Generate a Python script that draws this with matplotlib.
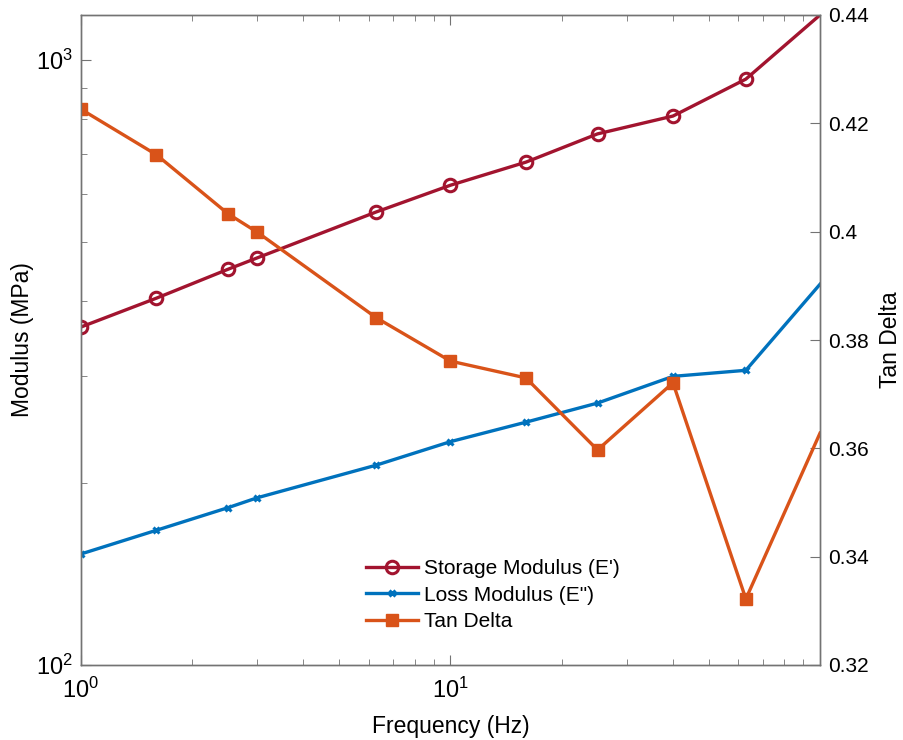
import matplotlib
matplotlib.use("Agg")
import matplotlib.pyplot as plt
from matplotlib.ticker import LogLocator, NullFormatter, FixedLocator, LogFormatterMathtext

plt.rcParams['font.family'] = ['Liberation Sans', 'DejaVu Sans']
plt.rcParams['mathtext.fontset'] = 'custom'
plt.rcParams['mathtext.rm'] = 'Liberation Sans'
plt.rcParams['mathtext.it'] = 'Liberation Sans'

freq = [1, 1.6, 2.5, 3, 6.3, 10, 16, 25, 40, 63, 100]
storage = [362, 404, 451, 471, 561, 621, 678, 755, 808, 930, 1187]
loss = [152.6, 167, 182, 189, 214, 234, 252, 271, 300, 307, 426]
tan_delta = [0.4226, 0.4142, 0.4033, 0.3999, 0.3841, 0.3761, 0.3730, 0.3597, 0.3721, 0.3322, 0.3628]

c_st = '#A2142F'
c_lo = '#0072BD'
c_td = '#D95319'
axc = '0.45'

fig = plt.figure(figsize=(9.04, 7.4), dpi=100)
ax = fig.add_axes([81/904, 75/740, (820-81)/904, (665-15)/740])
ax2 = ax.twinx()

me = list(range(len(freq) - 1))
l1, = ax.plot(freq, storage, '-o', color=c_st, lw=2.4, ms=9, mfc='none', mew=2.2,
              markevery=me, label="Storage Modulus (E')")
l2, = ax.plot(freq, loss, '-x', color=c_lo, lw=2.4, ms=5, mew=2.2,
              markevery=me, label='Loss Modulus (E")')
l3, = ax2.plot(freq, tan_delta, '-s', color=c_td, lw=2.4, ms=8,
               markevery=me, label='Tan Delta')

ax.set_xscale('log')
ax.set_yscale('log')
ax.set_xlim(1, 100)
ax.set_ylim(100, 1187)
ax2.set_ylim(0.32, 0.44)

ax.xaxis.set_major_locator(FixedLocator([1, 10]))
ax.xaxis.set_major_formatter(LogFormatterMathtext())
ax.xaxis.set_minor_locator(LogLocator(base=10, subs=range(2, 10)))
ax.xaxis.set_minor_formatter(NullFormatter())
ax.yaxis.set_major_locator(FixedLocator([100, 1000]))
ax.yaxis.set_major_formatter(LogFormatterMathtext())
ax.yaxis.set_minor_locator(LogLocator(base=10, subs=range(2, 10)))
ax.yaxis.set_minor_formatter(NullFormatter())
ax2.set_yticks([0.32, 0.34, 0.36, 0.38, 0.40, 0.42, 0.44])
ax2.set_yticklabels(['0.32', '0.34', '0.36', '0.38', '0.4', '0.42', '0.44'])

for a in (ax, ax2):
    for s in a.spines.values():
        s.set_color(axc)
        s.set_linewidth(1.0)
ax.tick_params(axis='x', which='both', direction='in', top=True, colors=axc,
               labelcolor='black', labelsize=17, pad=9)
ax.tick_params(axis='y', which='both', direction='in', right=False, colors=axc,
               labelcolor='black', labelsize=17, pad=5.5)
ax.tick_params(which='major', length=7)
ax.tick_params(which='minor', length=4)
ax2.tick_params(axis='y', which='both', direction='in', colors=axc,
                labelcolor='black', labelsize=15, length=7, pad=5.5)

ax.set_xlabel('Frequency (Hz)', fontsize=16.5, labelpad=9)
ax.set_ylabel('Modulus (MPa)', fontsize=16.5, labelpad=2)
ax2.set_ylabel('Tan Delta', fontsize=16.5, labelpad=8)

leg = ax2.legend(handles=[l1, l2, l3], loc='upper left',
                 bbox_to_anchor=(358/904, 1 - 551/740), bbox_transform=fig.transFigure,
                 frameon=False, fontsize=15, handlelength=2.5, handletextpad=0.25,
                 labelspacing=0.35, borderaxespad=0)

fig.savefig('out.png', dpi=100)
